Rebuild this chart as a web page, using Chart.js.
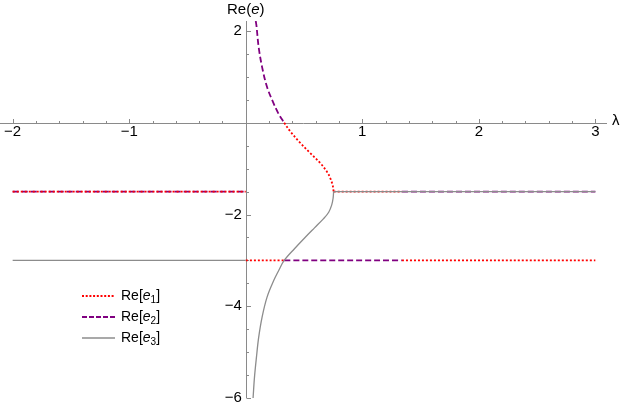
<!DOCTYPE html>
<html>
<head>
<meta charset="utf-8">
<script src="https://cdn.jsdelivr.net/npm/chart.js@4"></script>
<style>
  html, body { margin: 0; padding: 0; background: #fff; }
  canvas { display: block; }
</style>
</head>
<body>
<canvas id="chart" width="623" height="404"></canvas>
<script>
// lambda values where the branches start, meet and swap
const lamStart = -2;
const lamEnd = 3;
const lamCross = 0.33;
const lamMerge = 0.754;
const lamSwap = 1.34;

// the two flat levels of Re(e)
const levelHigh = -1.5;
const levelLow = -3;

// upper branch, from the top of the plot down to Re = 0
const upperX = [0.086, 0.092, 0.111, 0.140, 0.183, 0.240, 0.283, 0.33];
const upperY = [2.22, 2.12, 1.65, 1.22, 0.78, 0.42, 0.19, 0];
// upper branch continued down to where it meets the lower one
const midX = [0.33, 0.383, 0.469, 0.554, 0.640, 0.698, 0.726, 0.746, 0.754];
const midY = [0, -0.19, -0.44, -0.66, -0.88, -1.07, -1.21, -1.36, -1.5];
// lower branch, from the meeting point down to -6
const lowerX = [0.754, 0.750, 0.738, 0.712, 0.668, 0.590, 0.505, 0.420, 0.33, 0.283, 0.240, 0.183, 0.140, 0.111, 0.092, 0.075, 0.063];
const lowerY = [-1.5, -1.64, -1.79, -1.95, -2.09, -2.29, -2.51, -2.74, -3.0, -3.22, -3.44, -3.80, -4.24, -4.68, -5.11, -5.55, -6.0];

const xTicks = [-2, -1, 1, 2, 3];
const yTicks = [2, -2, -4, -6];
const xMinorStep = 0.2;
const yMinorStep = 0.5;
const subscripts = ["1", "2", "3"];

const axisColor = "#8a8a8a";
const font = '"Liberation Sans", Arial, sans-serif';

function seg(xs, ys) {
  return xs.map((x, i) => ({ x: x, y: ys[i] }));
}

// joins pieces with a null point so the line breaks between them
function join(...parts) {
  let out = [];
  parts.forEach((p, i) => {
    if (i > 0) out.push({ x: p[0].x, y: null });
    out = out.concat(p);
  });
  return out;
}

const e1 = join(
  seg([lamStart, 0], [levelHigh, levelHigh]),
  seg([0, lamCross], [levelLow, levelLow]),
  seg(midX, midY),
  seg([lamMerge, lamSwap], [levelHigh, levelHigh]),
  seg([lamSwap, lamEnd], [levelLow, levelLow])
);
const e2 = join(
  seg([lamStart, 0], [levelHigh, levelHigh]),
  seg(upperX, upperY),
  seg([lamCross, lamSwap], [levelLow, levelLow]),
  seg([lamSwap, lamEnd], [levelHigh, levelHigh])
);
const e3 = join(
  seg([lamStart, 0], [levelLow, levelLow]),
  seg(lowerX, lowerY),
  seg([lamMerge, lamEnd], [levelHigh, levelHigh])
);

function minus(v) {
  return v < 0 ? "\u2212" + Math.abs(v) : String(v);
}

// draws text pieces one after another: [text, size, italic, dy]
function drawPieces(ctx, pieces, x, y, align) {
  let total = 0;
  pieces.forEach(p => {
    ctx.font = (p[2] ? "italic " : "") + p[1] + "px " + font;
    total += ctx.measureText(p[0]).width;
  });
  let cx = align === "center" ? x - total / 2 : x;
  ctx.textAlign = "left";
  pieces.forEach(p => {
    ctx.font = (p[2] ? "italic " : "") + p[1] + "px " + font;
    ctx.fillText(p[0], cx, y + (p[3] || 0));
    cx += ctx.measureText(p[0]).width;
  });
}

const axesPlugin = {
  id: "mmaAxes",
  beforeDatasetsDraw(chart) {
    const { ctx, chartArea } = chart;
    const xs = chart.scales.x, ys = chart.scales.y;
    const x0 = Math.round(xs.getPixelForValue(0)) + 0.5;
    const y0 = Math.round(ys.getPixelForValue(0)) + 0.5;
    ctx.save();
    ctx.strokeStyle = axisColor;
    ctx.lineWidth = 1;
    ctx.beginPath();
    ctx.moveTo(0, y0);
    ctx.lineTo(chartArea.right, y0);
    ctx.moveTo(x0, chartArea.top);
    ctx.lineTo(x0, chartArea.bottom);

    // ticks on the x axis, pointing up
    for (let i = Math.ceil(xs.min / xMinorStep - 1e-9); i <= Math.floor(xs.max / xMinorStep + 1e-9); i++) {
      const v = i * xMinorStep;
      if (Math.abs(v) < 1e-9) continue;
      const major = xTicks.some(t => Math.abs(t - v) < 1e-9);
      const px = Math.round(xs.getPixelForValue(v)) + 0.5;
      ctx.moveTo(px, y0);
      ctx.lineTo(px, y0 - (major ? 4.5 : 2.5));
    }
    // ticks on the y axis, pointing right
    for (let i = Math.ceil(ys.min / yMinorStep - 1e-9); i <= Math.floor(ys.max / yMinorStep + 1e-9); i++) {
      const v = i * yMinorStep;
      if (Math.abs(v) < 1e-9) continue;
      const major = yTicks.some(t => Math.abs(t - v) < 1e-9);
      const py = Math.round(ys.getPixelForValue(v)) + 0.5;
      ctx.moveTo(x0, py);
      ctx.lineTo(x0 + (major ? 4.5 : 2.5), py);
    }
    ctx.stroke();
    ctx.restore();
  },
  afterDraw(chart) {
    const { ctx, chartArea } = chart;
    const xs = chart.scales.x, ys = chart.scales.y;
    const x0 = xs.getPixelForValue(0);
    const y0 = ys.getPixelForValue(0);
    ctx.save();
    ctx.fillStyle = "#000";
    ctx.font = "15px " + font;
    ctx.textBaseline = "middle";

    ctx.textAlign = "center";
    xTicks.forEach(t => ctx.fillText(minus(t), xs.getPixelForValue(t), y0 + 9));
    ctx.textAlign = "right";
    yTicks.forEach(t => ctx.fillText(minus(t), x0 - 4, ys.getPixelForValue(t)));

    // axis labels
    drawPieces(ctx, [["Re(", 15], ["e", 15, true], [")", 15]], x0, 9.5, "center");
    ctx.font = "15px " + font;
    ctx.textAlign = "left";
    ctx.fillText("\u03bb", chartArea.right + 5, y0 - 2);

    // legend
    const rows = [296, 317, 338];
    chart.data.datasets.forEach((ds, i) => {
      const ly = rows[i];
      ctx.save();
      ctx.strokeStyle = ds.borderColor;
      ctx.lineWidth = ds.borderWidth;
      ctx.setLineDash(ds.legendDash);
      ctx.beginPath();
      ctx.moveTo(82, ly);
      ctx.lineTo(115, ly);
      ctx.stroke();
      ctx.restore();
      ctx.fillStyle = "#000";
      ctx.textBaseline = "middle";
      drawPieces(ctx, [["Re[", 14], ["e", 14, true], [subscripts[i], 10, false, 4], ["]", 14]], 121, ly, "left");
    });
    ctx.restore();
  }
};

new Chart(document.getElementById("chart"), {
  type: "line",
  data: {
    datasets: [
      { label: "Re[e1]", data: e1, borderColor: "#ff0000", borderWidth: 1.8, borderDash: [2, 2], legendDash: [2, 1.7], order: 1 },
      { label: "Re[e2]", data: e2, borderColor: "#800080", borderWidth: 1.8, borderDash: [6, 3], legendDash: [5, 2], order: 2 },
      { label: "Re[e3]", data: e3, borderColor: "#8c8c8c", borderWidth: 1.3, borderDash: [], legendDash: [], order: 0 }
    ]
  },
  options: {
    responsive: false,
    animation: false,
    devicePixelRatio: 1,
    layout: { padding: { left: 1, right: 16, top: 21, bottom: 6 } },
    elements: {
      point: { radius: 0 },
      line: { tension: 0.35, fill: false }
    },
    spanGaps: false,
    scales: {
      x: { type: "linear", min: -2.1, max: 3.1, display: false },
      y: { type: "linear", min: -6, max: 2.22, display: false }
    },
    plugins: {
      legend: { display: false },
      tooltip: { enabled: false }
    }
  },
  plugins: [axesPlugin]
});
</script>
</body>
</html>
